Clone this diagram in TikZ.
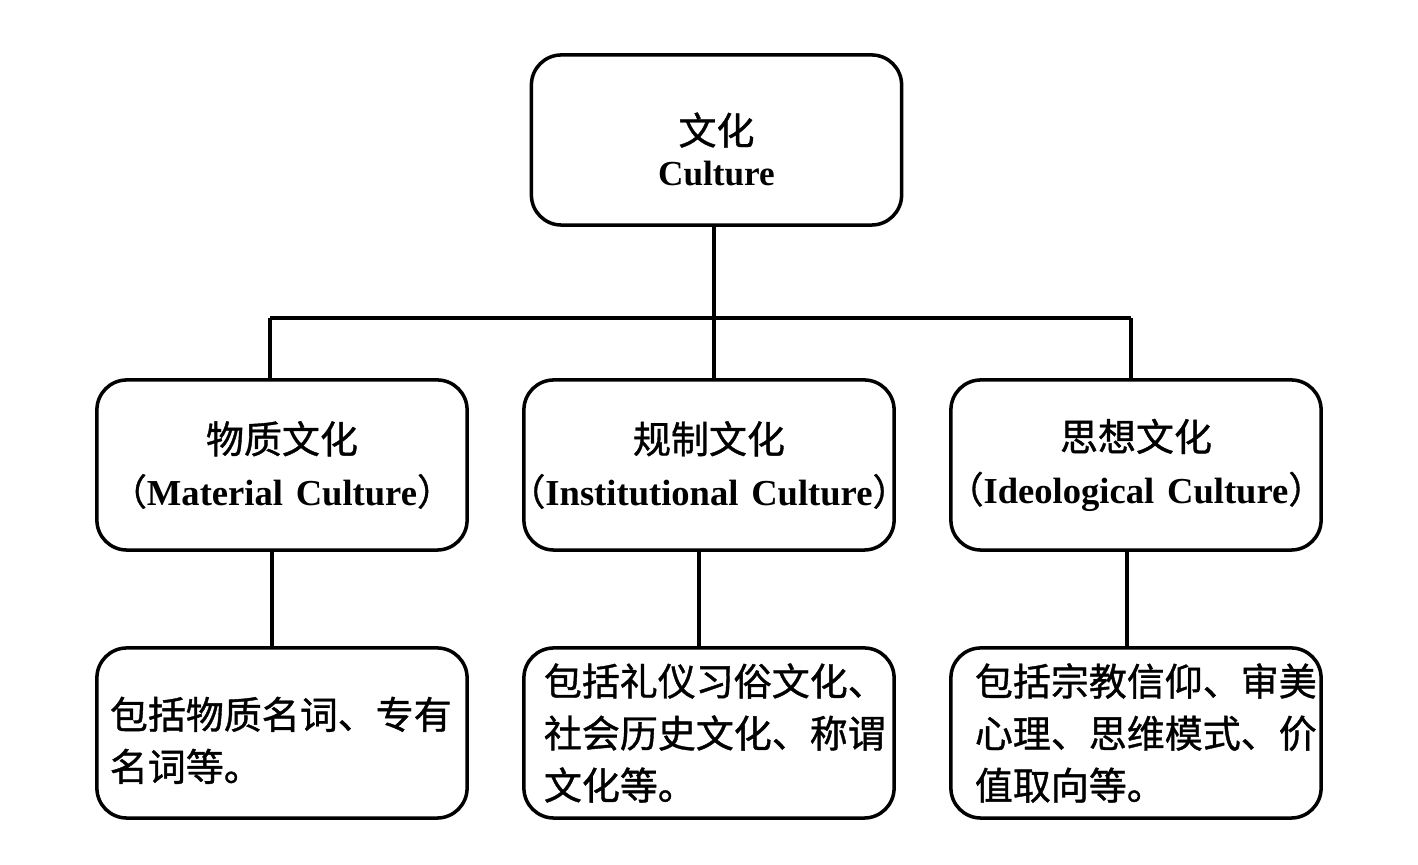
\documentclass[tikz,border=0pt]{standalone}
\usepackage{fontspec}
\setmainfont{Liberation Serif}
\newfontfamily\cjk{Noto Sans CJK SC}[FakeBold=1]
\newcommand{\lp}{\kern-0.45em{\cjk （}}
\newcommand{\rp}{{\cjk ）}\kern-0.45em}
\newcommand{\enline}[1]{\makebox[0pt]{\fontsize{10.4}{14.8}\selectfont\lp\textbf{#1}\rp}}
\begin{document}
\begin{tikzpicture}[x=0.01cm,y=-0.01cm,
  box/.style={draw, line width=1pt, rounded corners=0.3cm, minimum width=3.7cm, minimum height=1.7cm, inner sep=0pt, text width=3.7cm},
  mid/.style={box, align=center, font=\fontsize{10.8}{14.8}\selectfont},
  leaf/.style={box, align=left, font=\cjk\fontsize{10.8}{14.8}\selectfont},
  conn/.style={line width=1pt}]
\useasboundingbox (0,0) rectangle (1418,865);
\node[box, align=center, font=\fontsize{10.8}{12.5}\selectfont] (top) at (716.5,140)
  {\rule{0pt}{0pt}\\[2pt]{\cjk 文化}\\[-0.8pt]{\fontsize{10}{12.5}\selectfont\textbf{Culture}}};
\node[mid] (m1) at (282,465) {{\cjk 物质文化}\\\enline{Material\hspace{0.35em}Culture}};
\node[mid] (m2) at (709,465) {{\cjk 规制文化}\\\enline{Institutional\hspace{0.35em}Culture}};
\node[mid] (m3) at (1136,465) {{\cjk 思想文化}\\\enline{Ideological\hspace{0.35em}Culture}};
\node[leaf] (b1) at (282,733) {\hspace*{0.13cm}\\[-1.5pt]\hspace*{0.13cm}包括物质名词、专有\\\hspace*{0.13cm}名词等。};
\node[leaf] (b2) at (709,733) {\hspace*{0.2cm}包括礼仪习俗文化、\\\hspace*{0.2cm}社会历史文化、称谓\\\hspace*{0.2cm}文化等。};
\node[leaf] (b3) at (1136,733) {\hspace*{0.24cm}包括宗教信仰、审美\\\hspace*{0.24cm}心理、思维模式、价\\\hspace*{0.24cm}值取向等。};
\coordinate (hub) at (714,318);
\coordinate (hl) at (270,318);
\coordinate (hr) at (1131,318);
\draw[conn] (top.south -| hub) -- (hub);
\draw[conn] (hl) -- (hr);
\draw[conn] (hl) -- (hl |- m1.north);
\draw[conn] (hub) -- (hub |- m2.north);
\draw[conn] (hr) -- (hr |- m3.north);
\coordinate (d1) at (272,600);
\coordinate (d2) at (699,600);
\coordinate (d3) at (1127,600);
\draw[conn] (m1.south -| d1) -- (b1.north -| d1);
\draw[conn] (m2.south -| d2) -- (b2.north -| d2);
\draw[conn] (m3.south -| d3) -- (b3.north -| d3);
\end{tikzpicture}
\end{document}
